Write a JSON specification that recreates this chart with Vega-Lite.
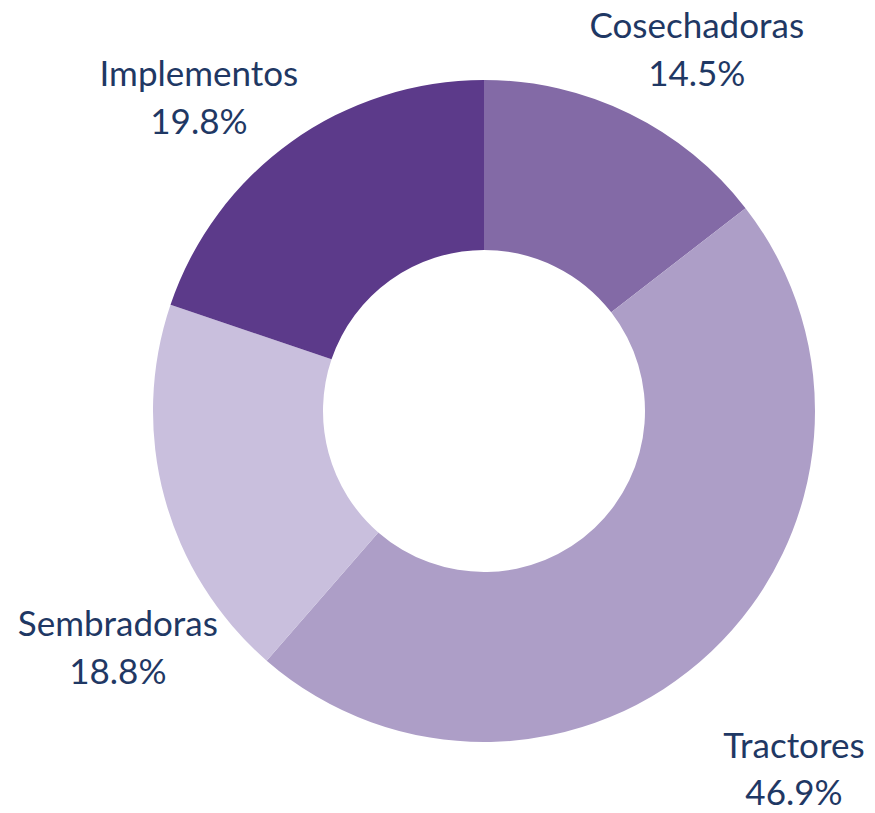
{
  "$schema": "https://vega.github.io/schema/vega-lite/v6.json",
  "width": 782,
  "height": 804,
  "padding": {"left": 93, "top": 9, "right": 0, "bottom": 0},
  "autosize": {"type": "none"},
  "background": "white",
  "config": {"view": {"stroke": null}},
  "data": {
    "values": [
      {"idx": 1, "category": "Cosechadoras", "value": 14.5, "label": "Cosechadoras\n14.5%"},
      {"idx": 2, "category": "Tractores", "value": 46.9, "label": "Tractores\n46.9%"},
      {"idx": 3, "category": "Sembradoras", "value": 18.8, "label": "Sembradoras\n18.8%"},
      {"idx": 4, "category": "Implementos", "value": 19.8, "label": "Implementos\n19.8%"}
    ]
  },
  "encoding": {
    "theta": {"field": "value", "type": "quantitative", "stack": true},
    "order": {"field": "idx", "type": "quantitative"}
  },
  "layer": [
    {
      "mark": {"type": "arc", "radius": 331, "innerRadius": 161},
      "encoding": {
        "color": {
          "field": "category",
          "type": "nominal",
          "legend": null,
          "scale": {
            "domain": ["Cosechadoras", "Tractores", "Sembradoras", "Implementos"],
            "range": ["#836aa6", "#ad9ec7", "#c9bfdd", "#5c3a8a"]
          }
        }
      }
    },
    {
      "mark": {"type": "text", "radius": 420, "dx": 28, "dy": -7, "font": "Lato", "fontSize": 35, "lineHeight": 48, "lineBreak": "\n", "color": "#1f3864", "align": "center", "baseline": "middle"},
      "encoding": {"text": {"condition": {"test": "datum.category === 'Cosechadoras'", "field": "label"}, "value": ""}}
    },
    {
      "mark": {"type": "text", "radius": 460, "dx": -6, "dy": 2, "font": "Lato", "fontSize": 35, "lineHeight": 47, "lineBreak": "\n", "color": "#1f3864", "align": "center", "baseline": "middle"},
      "encoding": {"text": {"condition": {"test": "datum.category === 'Tractores'", "field": "label"}, "value": ""}}
    },
    {
      "mark": {"type": "text", "radius": 400, "dx": 20, "dy": 110, "font": "Lato", "fontSize": 35, "lineHeight": 48, "lineBreak": "\n", "color": "#1f3864", "align": "center", "baseline": "middle"},
      "encoding": {"text": {"condition": {"test": "datum.category === 'Sembradoras'", "field": "label"}, "value": ""}}
    },
    {
      "mark": {"type": "text", "radius": 400, "dx": -52, "dy": -11, "font": "Lato", "fontSize": 35, "lineHeight": 48, "lineBreak": "\n", "color": "#1f3864", "align": "center", "baseline": "middle"},
      "encoding": {"text": {"condition": {"test": "datum.category === 'Implementos'", "field": "label"}, "value": ""}}
    }
  ]
}
